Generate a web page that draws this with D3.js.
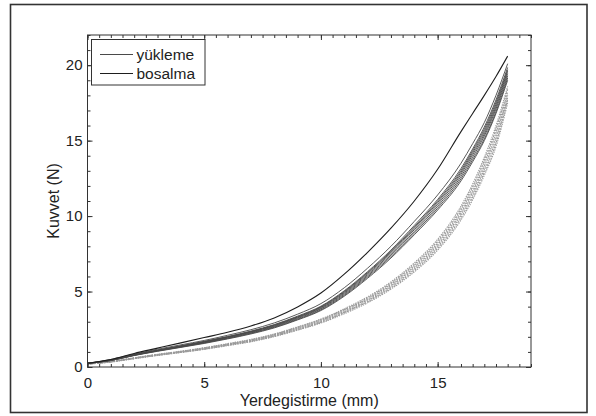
<!DOCTYPE html>
<html>
<head>
<meta charset="utf-8">
<script src="https://cdn.jsdelivr.net/npm/d3@7"></script>
<style>
  html, body { margin: 0; padding: 0; background: #fff; }
  svg { display: block; }
  text { font-family: "Liberation Sans", Arial, Helvetica, sans-serif; fill: #222; }
</style>
</head>
<body>
<svg id="chart" width="596" height="416"></svg>
<script>
// Displacement samples (mm) shared by every cycle
const displacement = [0, 1, 2, 3, 4, 5, 6, 7, 8, 9, 10, 11, 12, 13, 14, 15, 16, 16.5, 17, 17.5, 18];

// Loading cycles (force, N) — first cycle sits above the rest
const loadFirst = [0.25, 0.5, 0.9, 1.25, 1.6, 1.95, 2.3, 2.72, 3.25, 3.98, 4.9, 6.15, 7.6, 9.2, 11.0, 13.1, 15.6, 16.8, 18.0, 19.25, 20.6];
const loadC2 = [0.25, 0.5, 0.86, 1.18, 1.47, 1.76, 2.1, 2.47, 2.92, 3.5, 4.2, 5.25, 6.55, 8.0, 9.65, 11.4, 13.5, 14.8, 16.2, 18.0, 20.1];
const loadC3 = [0.25, 0.47, 0.82, 1.12, 1.41, 1.7, 2.02, 2.38, 2.81, 3.37, 4.03, 5.05, 6.32, 7.75, 9.38, 11.1, 13.15, 14.45, 15.9, 17.7, 19.85];
const loadC4 = [0.24, 0.46, 0.81, 1.11, 1.39, 1.68, 2.0, 2.35, 2.78, 3.33, 3.99, 5.0, 6.26, 7.67, 9.28, 11.0, 13.02, 14.33, 15.75, 17.55, 19.7];
const loadC5 = [0.25, 0.45, 0.8, 1.1, 1.38, 1.66, 1.98, 2.33, 2.75, 3.3, 3.95, 4.95, 6.2, 7.6, 9.2, 10.9, 12.9, 14.2, 15.6, 17.4, 19.6];
const loadC6 = [0.25, 0.44, 0.79, 1.09, 1.36, 1.64, 1.95, 2.3, 2.71, 3.26, 3.9, 4.89, 6.12, 7.51, 9.1, 10.78, 12.77, 14.06, 15.45, 17.25, 19.45];
const loadC7 = [0.24, 0.44, 0.78, 1.07, 1.34, 1.61, 1.92, 2.26, 2.67, 3.21, 3.85, 4.82, 6.04, 7.41, 8.98, 10.65, 12.62, 13.9, 15.3, 17.1, 19.3];
const loadC8 = [0.24, 0.43, 0.77, 1.06, 1.32, 1.59, 1.89, 2.23, 2.63, 3.16, 3.79, 4.75, 5.96, 7.31, 8.87, 10.52, 12.47, 13.74, 15.12, 16.92, 19.15];
const loadC9 = [0.24, 0.43, 0.76, 1.04, 1.3, 1.56, 1.86, 2.19, 2.59, 3.12, 3.74, 4.69, 5.88, 7.22, 8.76, 10.4, 12.33, 13.6, 15.0, 16.8, 19.0];

// Unloading cycles (force, N)
const unloadC1 = [0.21, 0.37, 0.61, 0.84, 1.05, 1.28, 1.55, 1.83, 2.19, 2.66, 3.18, 3.86, 4.65, 5.64, 6.9, 8.46, 10.66, 12.12, 13.9, 15.99, 18.6];
const unloadC2 = [0.21, 0.36, 0.6, 0.83, 1.03, 1.26, 1.52, 1.8, 2.16, 2.63, 3.14, 3.81, 4.58, 5.56, 6.8, 8.34, 10.5, 11.95, 13.7, 15.76, 18.4];
const unloadC3 = [0.2, 0.36, 0.59, 0.81, 1.02, 1.24, 1.5, 1.78, 2.13, 2.59, 3.1, 3.76, 4.52, 5.48, 6.7, 8.22, 10.35, 11.77, 13.5, 15.53, 18.2];
const unloadC4 = [0.2, 0.35, 0.58, 0.8, 1.0, 1.22, 1.48, 1.75, 2.1, 2.55, 3.05, 3.7, 4.45, 5.4, 6.6, 8.1, 10.2, 11.6, 13.3, 15.3, 18.0];
const unloadC5 = [0.2, 0.34, 0.57, 0.79, 0.99, 1.2, 1.46, 1.72, 2.07, 2.51, 3.0, 3.64, 4.38, 5.32, 6.5, 7.98, 10.05, 11.43, 13.1, 15.07, 17.85];
const unloadC6 = [0.19, 0.34, 0.56, 0.78, 0.97, 1.18, 1.44, 1.7, 2.04, 2.47, 2.96, 3.59, 4.32, 5.24, 6.4, 7.86, 9.89, 11.25, 12.9, 14.84, 17.7];
const unloadC7 = [0.19, 0.33, 0.55, 0.76, 0.96, 1.17, 1.41, 1.67, 2.01, 2.44, 2.91, 3.53, 4.25, 5.16, 6.3, 7.74, 9.74, 11.08, 12.7, 14.61, 17.5];

// Axis ticks and labels
const xMajorTicks = [0, 5, 10, 15];
const yMajorTicks = [0, 5, 10, 15, 20];
const legendLabels = ["yükleme", "bosalma"];
const xTitle = "Yerdegistirme (mm)";
const yTitle = "Kuvvet (N)";

const loadCycles = [loadC9, loadC8, loadC7, loadC6, loadC5, loadC4, loadC3, loadC2];
const unloadCycles = [unloadC1, unloadC2, unloadC3, unloadC4, unloadC5, unloadC6, unloadC7];

const svg = d3.select("#chart");

// outer frame around the figure
svg.append("rect")
  .attr("x", 10.5).attr("y", 4.5)
  .attr("width", 576.5).attr("height", 408)
  .attr("fill", "none").attr("stroke", "#333").attr("stroke-width", 1.6);

const x = d3.scaleLinear().domain([0, 19]).range([87.5, 531]);
const y = d3.scaleLinear().domain([0, 22]).range([367, 35]);

const line = d3.line()
  .x(d => x(d[0]))
  .y(d => y(d[1]))
  .curve(d3.curveMonotoneX);

const toPoints = vals => vals.map((v, i) => [displacement[i], v]);

const plot = svg.append("g");

// unloading cycles: light grey, fine dashes give the stippled look
plot.selectAll("path.unload")
  .data(unloadCycles)
  .join("path")
  .attr("class", "unload")
  .attr("d", d => line(toPoints(d)))
  .attr("fill", "none")
  .attr("stroke", "#9a9a9a")
  .attr("stroke-width", 1.1)
  .attr("stroke-dasharray", (d, i) => i % 2 ? "2,1.2" : "1.4,1");

plot.selectAll("path.load")
  .data(loadCycles)
  .join("path")
  .attr("class", "load")
  .attr("d", d => line(toPoints(d)))
  .attr("fill", "none")
  .attr("stroke", "#474747")
  .attr("stroke-width", 0.9);

plot.append("path")
  .attr("d", line(toPoints(loadFirst)))
  .attr("fill", "none")
  .attr("stroke", "#1e1e1e")
  .attr("stroke-width", 1.1);

// axes: inward ticks on all four sides
const x0 = x.range()[0], x1 = x.range()[1];
const y0 = y.range()[0], y1 = y.range()[1];
const axisColor = "#333";

function styleAxis(g) {
  g.select(".domain").remove();
  g.selectAll("line").attr("stroke", axisColor);
  g.selectAll("text").attr("font-size", 15).attr("fill", "#222")
    .attr("font-family", "'Liberation Sans', Arial, sans-serif");
}

const xMinor = x.ticks(38);
const yMinor = y.ticks(22);

svg.append("g").attr("transform", `translate(0,${y0})`)
  .call(d3.axisBottom(x).tickValues(xMinor).tickSizeInner(-3).tickSizeOuter(0).tickFormat(""))
  .call(styleAxis);
svg.append("g").attr("transform", `translate(0,${y0})`)
  .call(d3.axisBottom(x).tickValues(xMajorTicks).tickSizeInner(-5).tickSizeOuter(0).tickPadding(10).tickFormat(d3.format("d")))
  .call(styleAxis);
svg.append("g").attr("transform", `translate(0,${y1})`)
  .call(d3.axisTop(x).tickValues(xMinor).tickSizeInner(-3).tickSizeOuter(0).tickFormat(""))
  .call(styleAxis);
svg.append("g").attr("transform", `translate(0,${y1})`)
  .call(d3.axisTop(x).tickValues(xMajorTicks).tickSizeInner(-5).tickSizeOuter(0).tickFormat(""))
  .call(styleAxis);

svg.append("g").attr("transform", `translate(${x0},0)`)
  .call(d3.axisLeft(y).tickValues(yMinor).tickSizeInner(-3).tickSizeOuter(0).tickFormat(""))
  .call(styleAxis);
svg.append("g").attr("transform", `translate(${x0},0)`)
  .call(d3.axisLeft(y).tickValues(yMajorTicks).tickSizeInner(-5).tickSizeOuter(0).tickPadding(5).tickFormat(d3.format("d")))
  .call(styleAxis);
svg.append("g").attr("transform", `translate(${x1},0)`)
  .call(d3.axisRight(y).tickValues(yMinor).tickSizeInner(-3).tickSizeOuter(0).tickFormat(""))
  .call(styleAxis);
svg.append("g").attr("transform", `translate(${x1},0)`)
  .call(d3.axisRight(y).tickValues(yMajorTicks).tickSizeInner(-5).tickSizeOuter(0).tickFormat(""))
  .call(styleAxis);

// axes box
svg.append("rect")
  .attr("x", x0).attr("y", y1)
  .attr("width", x1 - x0).attr("height", y0 - y1)
  .attr("fill", "none").attr("stroke", axisColor).attr("stroke-width", 1);

// axis titles
svg.append("text")
  .attr("x", (x0 + x1) / 2).attr("y", 406)
  .attr("text-anchor", "middle").attr("font-size", 16)
  .text(xTitle);

svg.append("text")
  .attr("transform", `translate(58.5,${(y0 + y1) / 2}) rotate(-90)`)
  .attr("text-anchor", "middle").attr("font-size", 16)
  .text(yTitle);

// legend
const legend = svg.append("g");
legend.append("rect")
  .attr("x", 91.5).attr("y", 39.5).attr("width", 113.5).attr("height", 45.5)
  .attr("fill", "#fff").attr("stroke", "#333").attr("stroke-width", 1);
const legendColors = ["#4a4a4a", "#1e1e1e"];
legendLabels.forEach((lbl, i) => {
  const ly = 54.5 + i * 19;
  legend.append("line")
    .attr("x1", 100).attr("x2", 133)
    .attr("y1", ly).attr("y2", ly)
    .attr("stroke", legendColors[i]).attr("stroke-width", 1);
  legend.append("text")
    .attr("x", 136.5).attr("y", ly + 5.5)
    .attr("font-size", 15.5)
    .text(lbl);
});
</script>
</body>
</html>
